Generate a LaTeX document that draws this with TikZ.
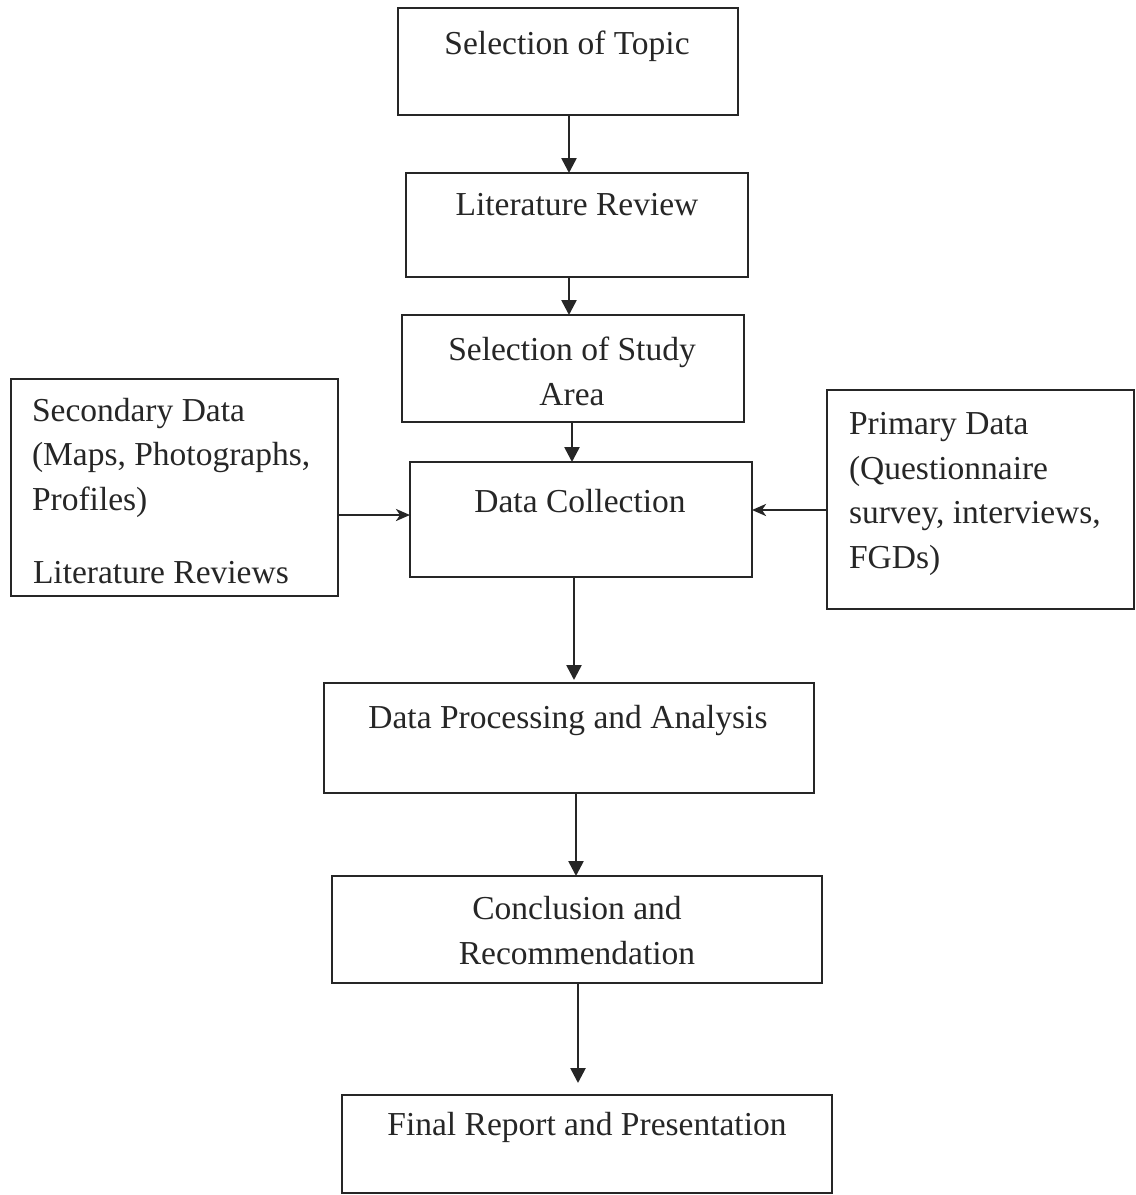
\documentclass[tikz,border=0pt]{standalone}
\usepackage{fontspec}
\setmainfont{Liberation Serif}
\usetikzlibrary{arrows.meta}
\definecolor{ink}{HTML}{262626}
\begin{document}
\begin{tikzpicture}[x=1pt,y=-1pt,
  box/.style={draw=ink, line width=2.8pt, inner sep=0pt, outer sep=0pt, fill=none},
  txt/.style={text=ink, inner sep=0pt, outer sep=0pt, font=\fontsize{33.5}{44.5}\selectfont},
  varr/.style={draw=ink, line width=2.6pt, -{Triangle[length=15pt,width=15pt]}},
  harr/.style={draw=ink, line width=2.6pt, -{Stealth[length=14pt,width=12pt,inset=4pt]}}]
\useasboundingbox (0,0) rectangle (1136,1195);
% boxes
\node[box, minimum width=340pt, minimum height=107pt] (b1) at (568,61.5) {};
\node[box, minimum width=342pt, minimum height=104pt] (b2) at (577,225) {};
\node[box, minimum width=342pt, minimum height=107pt] (b3) at (573,368.5) {};
\node[box, minimum width=342pt, minimum height=115pt] (b4) at (581,519.5) {};
\node[box, minimum width=327pt, minimum height=217pt] (sec) at (174.5,487.5) {};
\node[box, minimum width=307pt, minimum height=219pt] (pri) at (980.5,499.5) {};
\node[box, minimum width=490pt, minimum height=110pt] (b5) at (569,738) {};
\node[box, minimum width=490pt, minimum height=107pt] (b6) at (577,929.5) {};
\node[box, minimum width=490pt, minimum height=98pt] (b7) at (587,1144) {};
% texts (anchor base = baseline of the last line)
\node[txt, anchor=base] (t1) at (567,54) {Selection of Topic};
\node[txt, anchor=base] (t2) at (577,215) {Literature Review};
\node[txt, anchor=base, align=center] (t3) at (572,405) {Selection of Study\\Area};
\node[txt, anchor=base] (t4) at (580,512) {Data Collection};
\node[txt, anchor=base west, align=left] (tsec) at (32,510) {Secondary Data\\(Maps, Photographs,\\Profiles)};
\node[txt, anchor=base west] (tsec2) at (33,583) {Literature Reviews};
\node[txt, anchor=base west, align=left] (tpri) at (849,568) {Primary Data\\(Questionnaire\\survey, interviews,\\FGDs)};
\node[txt, anchor=base] (t5) at (568,728) {Data Processing and Analysis};
\node[txt, anchor=base, align=center] (t6) at (577,964) {Conclusion and\\Recommendation};
\node[txt, anchor=base] (t7) at (587,1135) {Final Report and Presentation};
% arrows
\draw[varr] (569,0 |- b1.south) -- (569,0 |- b2.north);
\draw[varr] (569,0 |- b2.south) -- (569,0 |- b3.north);
\draw[varr] (572,0 |- b3.south) -- (572,0 |- b4.north);
\draw[varr, shorten >=3pt] (574,0 |- b4.south) -- (574,0 |- b5.north);
\draw[varr] (576,0 |- b5.south) -- (576,0 |- b6.north);
\draw[varr, shorten >=12pt] (578,0 |- b6.south) -- (578,0 |- b7.north);
\draw[harr] (sec.east |- 0,515) -- (b4.west |- 0,515);
\draw[harr] (pri.west |- 0,510) -- (b4.east |- 0,510);
\end{tikzpicture}
\end{document}
